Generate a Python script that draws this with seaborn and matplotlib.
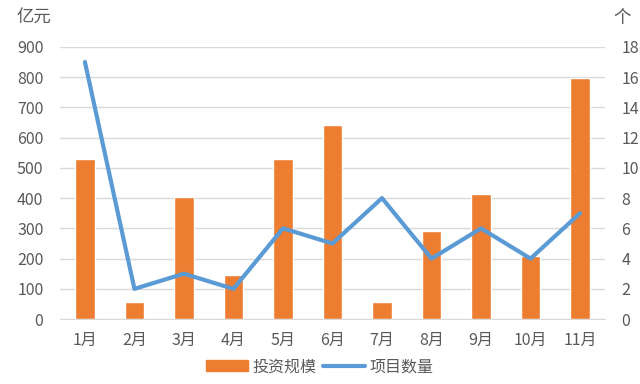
import pandas as pd
import matplotlib.pyplot as plt
import seaborn as sns
from matplotlib.patches import Patch
from matplotlib.lines import Line2D

# DATA
months = ['1月', '2月', '3月', '4月', '5月', '6月', '7月', '8月', '9月', '10月', '11月']
invest = [530, 57, 405, 147, 530, 640, 57, 290, 413, 207, 797]
projects = [17, 2, 3, 2, 6, 5, 8, 4, 6, 4, 7]

df = pd.DataFrame({'month': months, 'invest': invest, 'projects': projects})

sns.set_style('white')
plt.rcParams['font.family'] = ['Noto Sans CJK SC', 'DejaVu Sans']

bar_color = '#ED7D31'
line_color = '#5B9BD5'
text_color = '#595959'

fig = plt.figure(figsize=(6.4, 3.84), dpi=100)
ax = fig.add_axes([0.094, 0.169, 0.851, 0.709])

sns.barplot(data=df, x='month', y='invest', color=bar_color, width=0.4,
            saturation=1, ax=ax, zorder=2)
ax.set_ylim(0, 900)
ax.set_yticks(range(0, 901, 100))
ax.set_xlim(-0.5, 10.5)
ax.yaxis.grid(True, color='#D9D9D9', linewidth=1, zorder=0)
ax.set_axisbelow(True)

ax2 = ax.twinx()
sns.lineplot(x=list(range(len(months))), y=projects, color=line_color,
             linewidth=3, ax=ax2, zorder=3)
ax2.set_ylim(0, 18)
ax2.set_yticks(range(0, 19, 2))
ax2.set_xlim(-0.5, 10.5)

for a in (ax, ax2):
    for s in a.spines.values():
        s.set_visible(False)
    a.tick_params(length=0, labelsize=11.5, colors=text_color)
    a.set_xlabel('')
    a.set_ylabel('')
ax.spines['bottom'].set_visible(True)
ax.spines['bottom'].set_color('#D9D9D9')
ax.tick_params(axis='x', pad=9)
ax.tick_params(axis='y', pad=12)
ax2.tick_params(axis='y', pad=12)

fig.text(0.053, 0.953, '亿元', fontsize=12.5, color=text_color, ha='center', va='center')
fig.text(0.972, 0.953, '个', fontsize=12.5, color=text_color, ha='center', va='center')

handles = [Patch(color=bar_color, label='投资规模'),
           Line2D([0], [0], color=line_color, linewidth=3, label='项目数量')]
fig.legend(handles=handles, loc='center', bbox_to_anchor=(0.5, 0.045), ncol=2,
           frameon=False, fontsize=11.5, labelcolor=text_color, handlelength=2.6,
           handletextpad=0.3, columnspacing=0.4)

plt.savefig('out.png', dpi=100)
plt.close()
